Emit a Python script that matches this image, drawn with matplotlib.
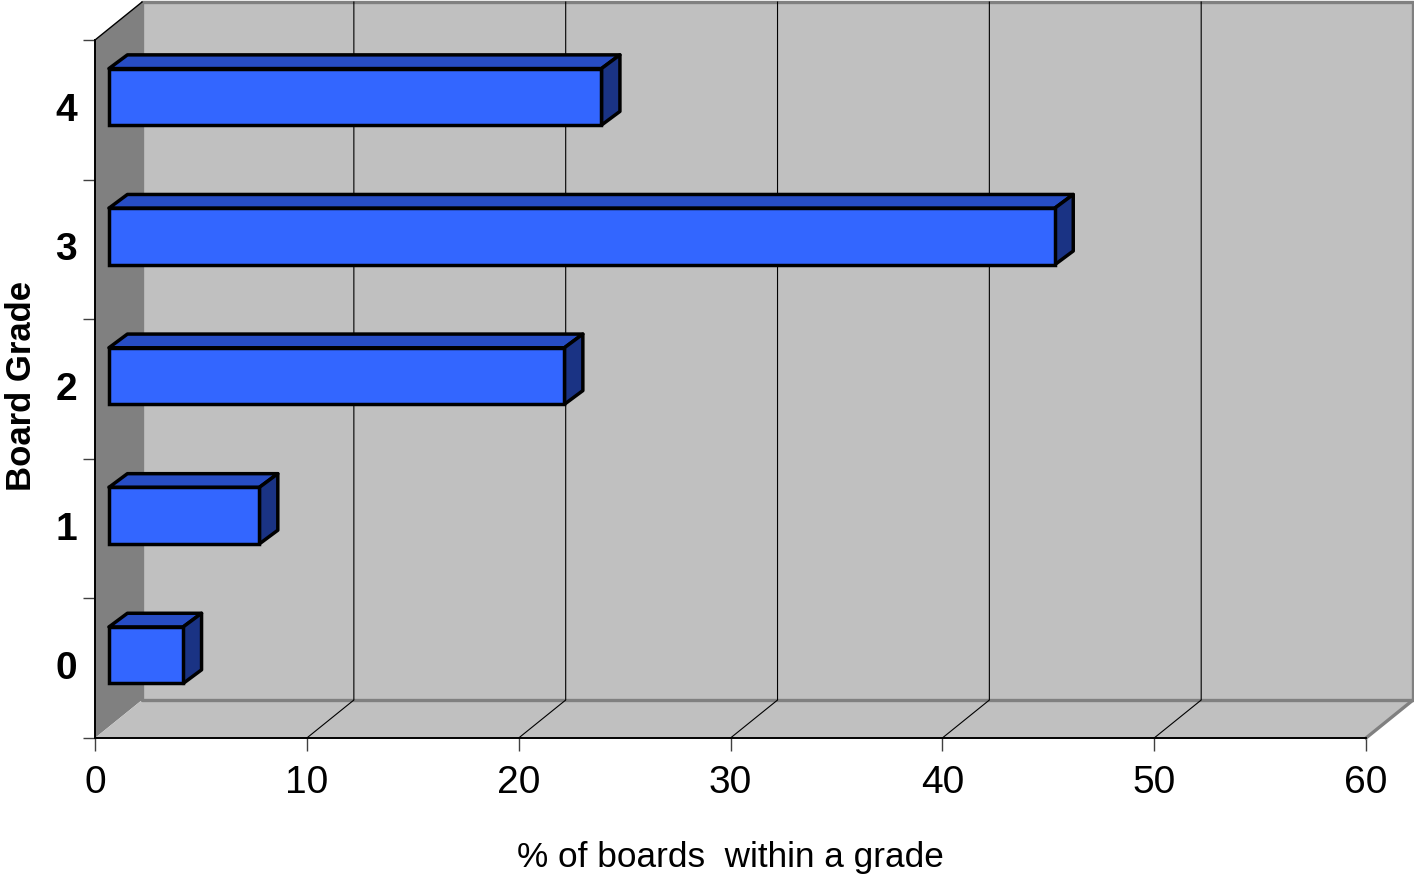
import matplotlib
matplotlib.use('Agg')
import matplotlib.pyplot as plt
from matplotlib.patches import Polygon
from matplotlib.transforms import ScaledTranslation

plt.rcParams['font.family'] = ['Liberation Sans', 'DejaVu Sans']

grades = ['0', '1', '2', '3', '4']
percent = [3.5, 7.1, 21.5, 44.65, 23.25]
xticks = [0, 10, 20, 30, 40, 50, 60]

# depth of the fake 3d box, in data units
depth_x = 2.22
depth_y = 0.272
# depth of each bar, and where the bars sit inside the box
bar_dx = 0.87
bar_dy = 0.098
bar_start = 0.66
bar_shift = 0.093
bar_height = 0.405

fig = plt.figure(figsize=(14.14, 8.77), dpi=100)
ax = fig.add_axes([95 / 1414, 139 / 877, 1271 / 1414, 698 / 877])
ax.set_xlim(0, 60)
ax.set_ylim(-0.5, 4.5)
ax.patch.set_visible(False)


def face(pts, color, edge='none', lw=0, z=1):
    ax.add_patch(Polygon(pts, closed=True, facecolor=color, edgecolor=edge,
                         linewidth=lw, zorder=z, clip_on=False, joinstyle='round'))


xmax = 60
y0, y1 = -0.5, 4.5

# side wall and floor
face([(0, y0), (depth_x, y0 + depth_y), (depth_x, y1 + depth_y), (0, y1)], '#808080')
face([(0, y0), (xmax, y0), (xmax + depth_x, y0 + depth_y), (depth_x, y0 + depth_y)], '#c0c0c0')
# back wall
face([(depth_x, y0 + depth_y), (xmax + depth_x, y0 + depth_y),
      (xmax + depth_x, y1 + depth_y), (depth_x, y1 + depth_y)], '#c0c0c0', '#808080', 2.4, 1.5)

# outline of the box
ax.plot([xmax, xmax + depth_x], [y0, y0 + depth_y], color='#808080', lw=2.4, zorder=2, clip_on=False)
ax.plot([0, depth_x], [y1, y1 + depth_y], color='black', lw=1, zorder=2, clip_on=False)

# gridlines up the back wall and across the floor
for v in xticks[1:-1]:
    ax.plot([v, v + depth_x, v + depth_x], [y0, y0 + depth_y, y1 + depth_y],
            color='black', lw=0.8, zorder=2, clip_on=False)

# bars: front from barh, top and end faces added as polygons
for i, v in enumerate(percent):
    yc = i + bar_shift
    b = yc - bar_height / 2
    t = yc + bar_height / 2
    end = bar_start + v
    face([(bar_start, t), (end, t), (end + bar_dx, t + bar_dy), (bar_start + bar_dx, t + bar_dy)],
         '#274dc4', 'black', 2.5, 3)
    face([(end, b), (end + bar_dx, b + bar_dy), (end + bar_dx, t + bar_dy), (end, t)],
         '#1a3384', 'black', 2.5, 3)
ax.barh([i + bar_shift for i in range(len(percent))], percent, height=bar_height, left=bar_start,
        color='#3366ff', edgecolor='black', linewidth=2.5, zorder=4)

for s in ['top', 'right']:
    ax.spines[s].set_visible(False)
for s in ['left', 'bottom']:
    ax.spines[s].set_linewidth(1.4)
    ax.spines[s].set_color('black')
    ax.spines[s].set_zorder(5)

ax.set_xticks(xticks)
ax.tick_params(axis='x', length=9, width=1, color='#404040', labelsize=28, pad=10.5)
ax.set_yticks(range(5))
ax.set_yticklabels(grades, fontweight='bold')
ax.tick_params(axis='y', which='major', length=0, labelsize=28, pad=13)
ax.set_yticks([i - 0.5 for i in range(6)], minor=True)
ax.tick_params(axis='y', which='minor', length=9, width=1, color='#404040')

# grade labels sit a little above the band centres
lift = ScaledTranslation(0, 3 / 100, fig.dpi_scale_trans)
for lab in ax.get_yticklabels():
    lab.set_transform(lab.get_transform() + lift)

ax.set_xlabel('% of boards  within a grade', fontsize=25.3, labelpad=28.5)
ax.set_ylabel('Board Grade', fontsize=25, fontweight='bold')
ax.yaxis.set_label_coords(-0.0446, 0.504)

fig.savefig('out.png', dpi=100)
